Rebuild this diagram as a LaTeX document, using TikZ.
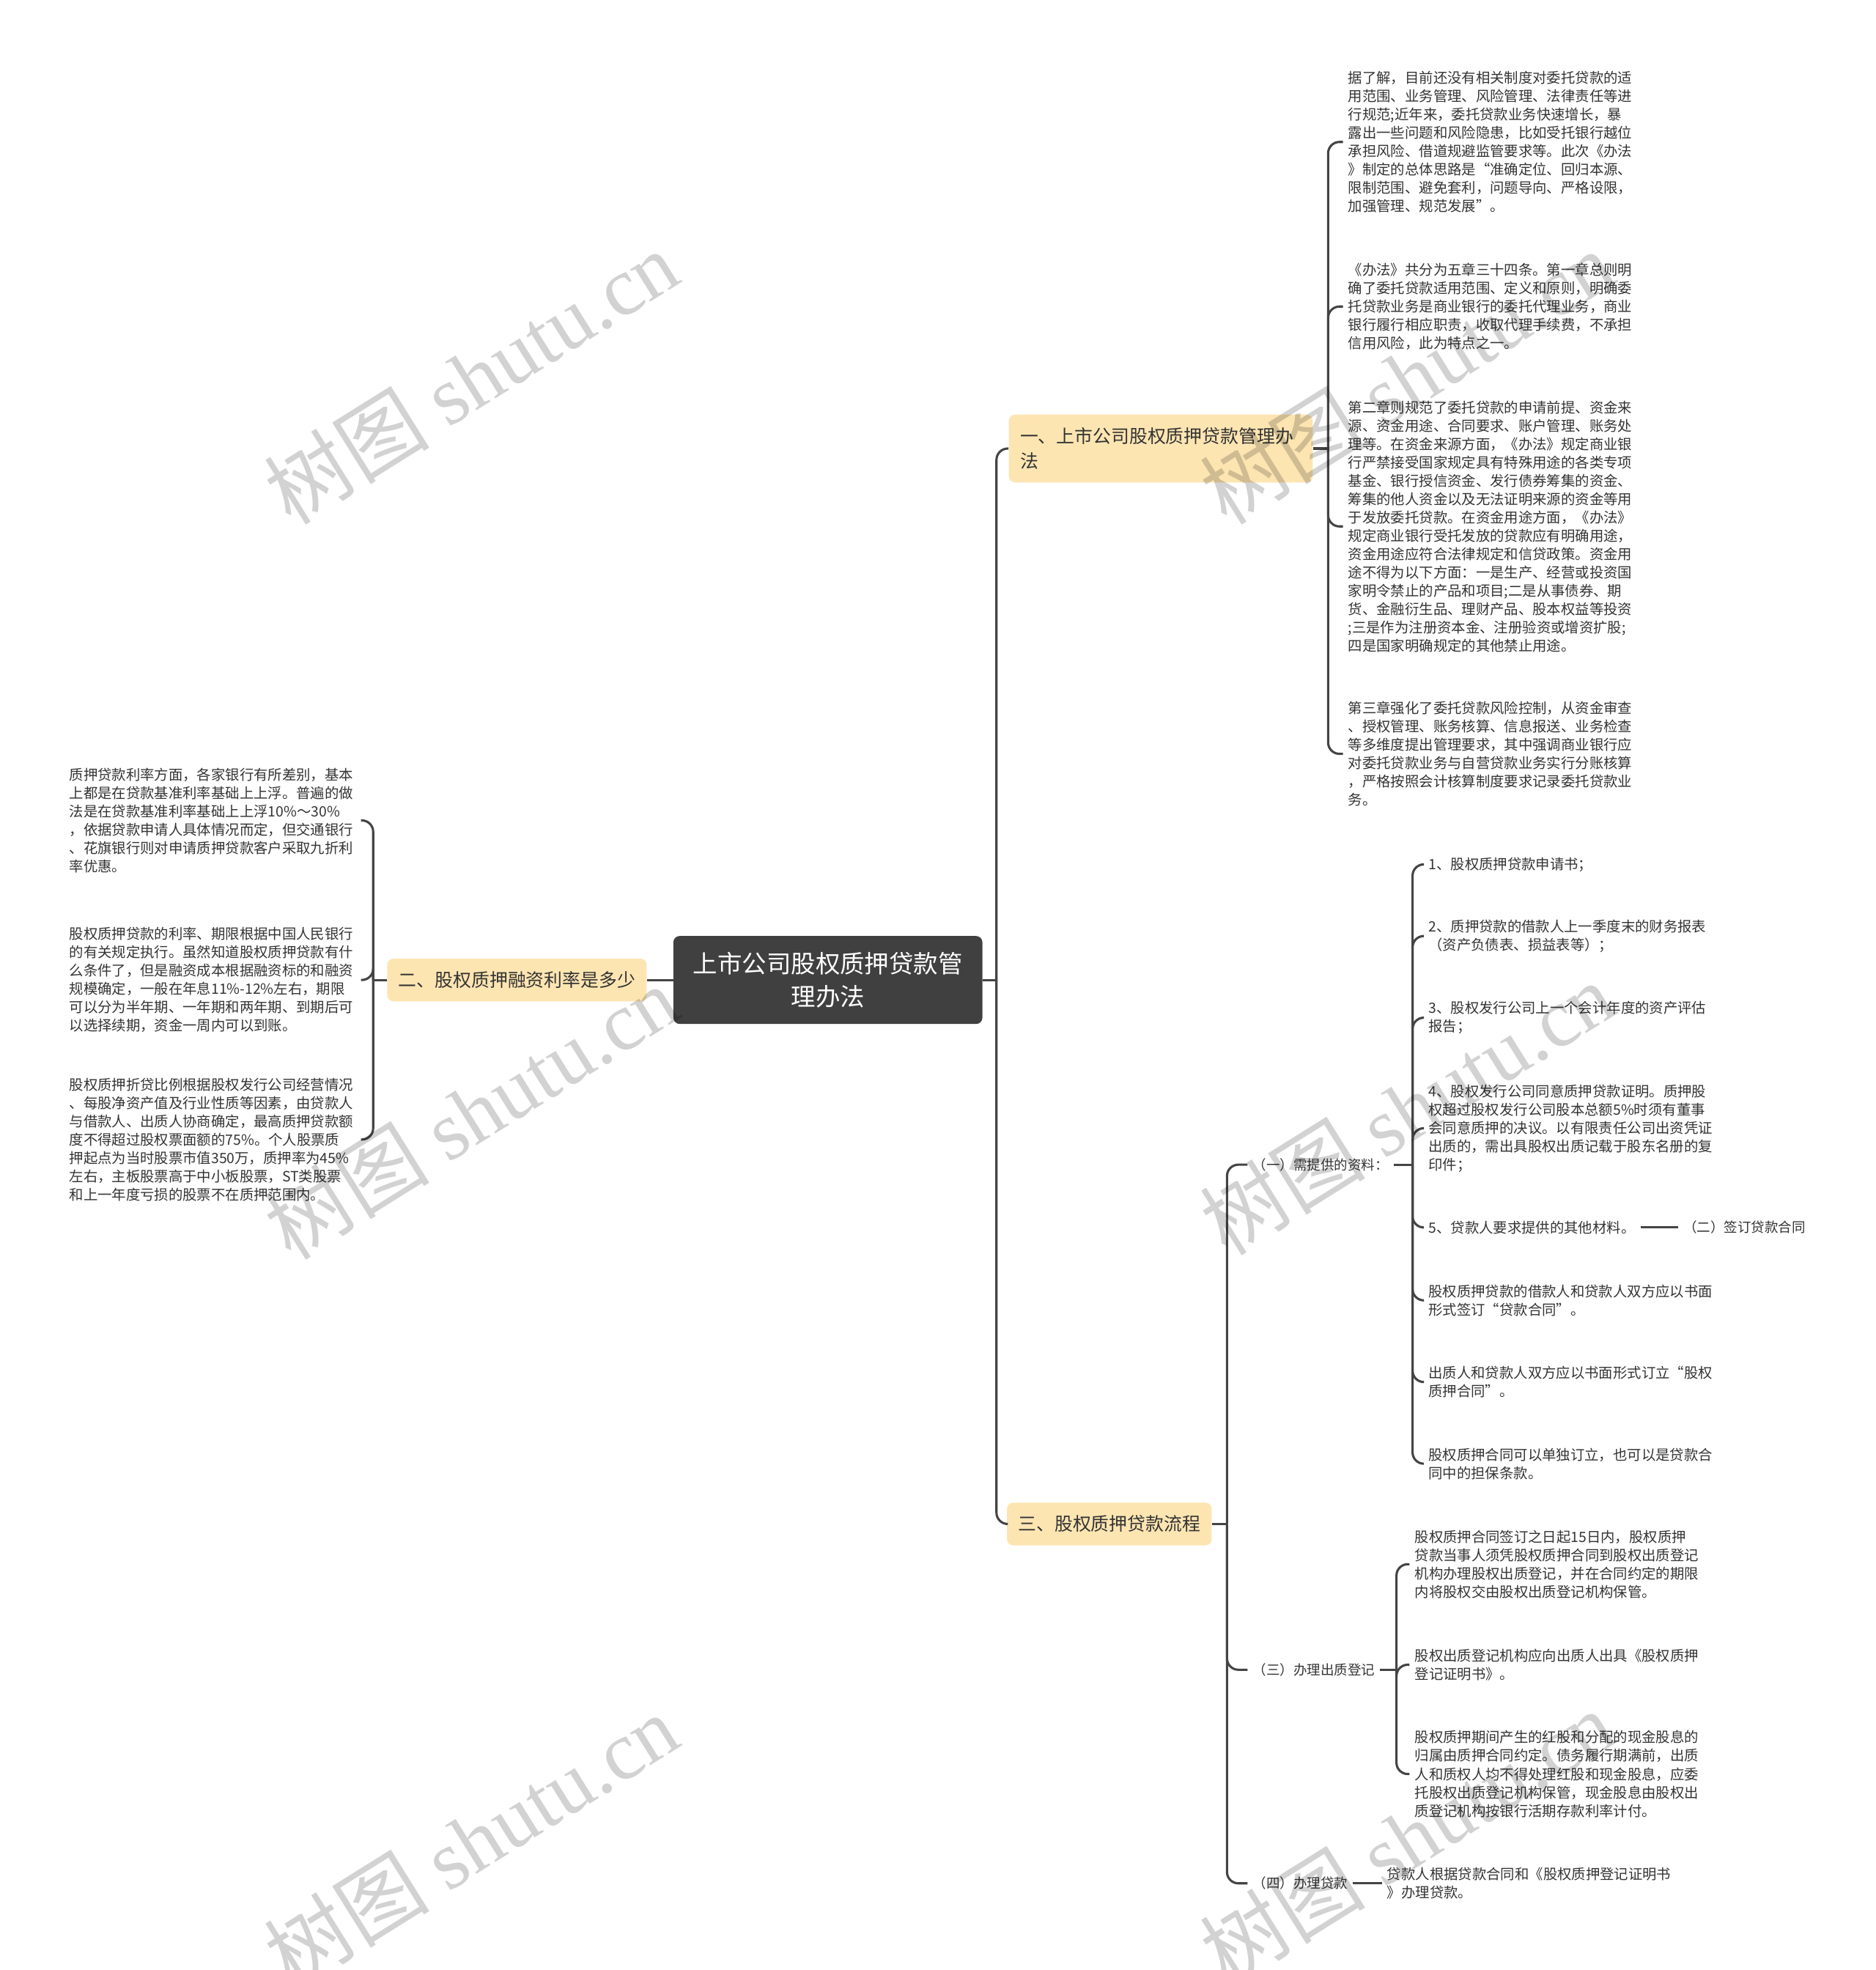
\documentclass[tikz,border=0pt]{standalone}
\usepackage{fontspec}
\setmainfont{Noto Sans CJK SC}
\newfontfamily\wmfont{Liberation Serif}
\usepackage{tikz}
\usetikzlibrary{positioning}
\definecolor{rootgray}{RGB}{64,64,64}
\definecolor{branchfill}{RGB}{253,229,178}
\definecolor{linkgray}{RGB}{68,68,68}
\definecolor{leaftext}{RGB}{51,51,51}
\definecolor{wmgray}{RGB}{210,210,210}

\begin{document}
\begin{tikzpicture}[x=1pt, y=-1pt,
  root/.style={rectangle, fill=rootgray, text=white, rounded corners=5pt,
               align=center, minimum width=246pt, minimum height=70pt,
               font=\fontsize{19.5}{26}\selectfont},
  branch/.style={rectangle, fill=branchfill, text=leaftext, rounded corners=5pt,
                 inner xsep=9pt, minimum height=34pt,
                 font=\fontsize{14.5}{20}\selectfont},
  leaf/.style={anchor=west, text=leaftext, inner xsep=4pt, inner ysep=2pt,
               text width=228pt, align=left,
               font=\fontsize{11.3}{14.6}\selectfont},
  sub/.style={anchor=west, text=leaftext, inner xsep=4pt, inner ysep=2pt,
              font=\fontsize{10.8}{14.6}\selectfont},
  link/.style={draw=linkgray, line width=1.8pt, rounded corners=9pt},
  wmtext/.style={text=wmgray, rotate=32, inner sep=0pt, font=\fontsize{66}{66}\selectfont}
]
\useasboundingbox (0,0) rectangle (1493,1568);

% Root
\node[root] (root) at (659,780) {上市公司股权质押贷款管\\理办法};

% Branches
\node[branch, text width=224pt, align=left, minimum height=54pt] (b1) at (924,357)
  {一、上市公司股权质押贷款管理办\\法};
\node[branch, minimum width=205pt] (b2) at (411.5,780) {二、股权质押融资利率是多少};
\node[branch, minimum width=160pt] (b3) at (883,1213) {三、股权质押贷款流程};

% Branch 1 leaves
\node[leaf] (r1) at (1069,113) {据了解，目前还没有相关制度对委托贷款的适\\用范围、业务管理、风险管理、法律责任等进\\行规范;近年来，委托贷款业务快速增长，暴\\露出一些问题和风险隐患，比如受托银行越位\\承担风险、借道规避监管要求等。此次《办法\\》制定的总体思路是“准确定位、回归本源、\\限制范围、避免套利，问题导向、严格设限，\\加强管理、规范发展”。};
\node[leaf] (r2) at (1069,244) {《办法》共分为五章三十四条。第一章总则明\\确了委托贷款适用范围、定义和原则，明确委\\托贷款业务是商业银行的委托代理业务，商业\\银行履行相应职责，收取代理手续费，不承担\\信用风险，此为特点之一。};
\node[leaf] (r3) at (1069,419) {第二章则规范了委托贷款的申请前提、资金来\\源、资金用途、合同要求、账户管理、账务处\\理等。在资金来源方面，《办法》规定商业银\\行严禁接受国家规定具有特殊用途的各类专项\\基金、银行授信资金、发行债券筹集的资金、\\筹集的他人资金以及无法证明来源的资金等用\\于发放委托贷款。在资金用途方面，《办法》\\规定商业银行受托发放的贷款应有明确用途，\\资金用途应符合法律规定和信贷政策。资金用\\途不得为以下方面：一是生产、经营或投资国\\家明令禁止的产品和项目;二是从事债券、期\\货、金融衍生品、理财产品、股本权益等投资\\;三是作为注册资本金、注册验资或增资扩股;\\四是国家明确规定的其他禁止用途。};
\node[leaf] (r4) at (1069,600) {第三章强化了委托贷款风险控制，从资金审查\\、授权管理、账务核算、信息报送、业务检查\\等多维度提出管理要求，其中强调商业银行应\\对委托贷款业务与自营贷款业务实行分账核算\\，严格按照会计核算制度要求记录委托贷款业\\务。};

% Branch 2 leaves
\node[leaf] (l1) at (51,653) {质押贷款利率方面，各家银行有所差别，基本\\上都是在贷款基准利率基础上上浮。普遍的做\\法是在贷款基准利率基础上上浮10\%～30\%\\，依据贷款申请人具体情况而定，但交通银行\\、花旗银行则对申请质押贷款客户采取九折利\\率优惠。};
\node[leaf] (l2) at (51,780) {股权质押贷款的利率、期限根据中国人民银行\\的有关规定执行。虽然知道股权质押贷款有什\\么条件了，但是融资成本根据融资标的和融资\\规模确定，一般在年息11\%-12\%左右，期限\\可以分为半年期、一年期和两年期、到期后可\\以选择续期，资金一周内可以到账。};
\node[leaf] (l3) at (51,907) {股权质押折贷比例根据股权发行公司经营情况\\、每股净资产值及行业性质等因素，由贷款人\\与借款人、出质人协商确定，最高质押贷款额\\度不得超过股权票面额的75\%。个人股票质\\押起点为当时股票市值350万，质押率为45\%\\左右，主板股票高于中小板股票，ST类股票\\和上一年度亏损的股票不在质押范围内。};

% Branch 3 steps
\node[sub] (s1) at (993,927) {（一）需提供的资料：};
\node[sub] (s3) at (993,1329) {（三）办理出质登记};
\node[sub] (s4) at (993,1499) {（四）办理贷款};

% Step 1 items
\node[leaf] (i1) at (1133,688) {1、股权质押贷款申请书；};
\node[leaf] (i2) at (1133,745) {2、质押贷款的借款人上一季度末的财务报表\\（资产负债表、损益表等）；};
\node[leaf] (i3) at (1133,810) {3、股权发行公司上一个会计年度的资产评估\\报告；};
\node[leaf] (i4) at (1133,898) {4、股权发行公司同意质押贷款证明。质押股\\权超过股权发行公司股本总额5\%时须有董事\\会同意质押的决议。以有限责任公司出资凭证\\出质的，需出具股权出质记载于股东名册的复\\印件；};
\node[leaf, text width=] (i5) at (1133,977) {5、贷款人要求提供的其他材料。};
\node[sub, right=30pt of i5] (k2) {（二）签订贷款合同};
\node[leaf] (i6) at (1133,1035) {股权质押贷款的借款人和贷款人双方应以书面\\形式签订“贷款合同”。};
\node[leaf] (i7) at (1133,1100) {出质人和贷款人双方应以书面形式订立“股权\\质押合同”。};
\node[leaf] (i8) at (1133,1165) {股权质押合同可以单独订立，也可以是贷款合\\同中的担保条款。};

% Step 3 items
\node[leaf] (t1) at (1122,1245) {股权质押合同签订之日起15日内，股权质押\\贷款当事人须凭股权质押合同到股权出质登记\\机构办理股权出质登记，并在合同约定的期限\\内将股权交由股权出质登记机构保管。};
\node[leaf] (t2) at (1122,1325) {股权出质登记机构应向出质人出具《股权质押\\登记证明书》。};
\node[leaf] (t3) at (1122,1412) {股权质押期间产生的红股和分配的现金股息的\\归属由质押合同约定。债务履行期满前，出质\\人和质权人均不得处理红股和现金股息，应委\\托股权出质登记机构保管，现金股息由股权出\\质登记机构按银行活期存款利率计付。};

% Step 4 item
\node[leaf] (u1) at (1100,1499) {贷款人根据贷款合同和《股权质押登记证明书\\》办理贷款。};

% Root links
\draw[link] (root.east) -- ++(11,0) coordinate (jr);
\draw[link] (jr) |- (b1.west);
\draw[link] (jr) |- (b3.west);
\draw[link] (root.west) -- (b2.east);

% Branch 1 links
\draw[link] (b1.east) -- ++(12,0) coordinate (j1);
\foreach \n in {r1,r2,r3,r4} {\draw[link] (j1) |- (\n.west);}

% Branch 2 links
\draw[link] (b2.west) -- ++(-11,0) coordinate (j2);
\foreach \n in {l1,l2,l3} {\draw[link] (j2) |- (\n.east);}

% Branch 3 links
\draw[link] (b3.east) -- ++(12,0) coordinate (j3);
\foreach \n in {s1,s3,s4} {\draw[link] (j3) |- (\n.west);}

% Step links
\draw[link] (s1.east) -- ++(15,0) coordinate (js1);
\foreach \n in {i1,i2,i3,i4,i5,i6,i7,i8} {\draw[link] (js1) |- (\n.west);}
\draw[link] (i5.east) -- (k2.west);
\draw[link] (s3.east) -- ++(13,0) coordinate (js3);
\foreach \n in {t1,t2,t3} {\draw[link] (js3) |- (\n.west);}
\draw[link] (s4.east) -- (u1.west);

% Watermarks
\begin{scope}[blend mode=multiply]
\node[wmtext] (w1) at (375,300) {树图 {\wmfont shutu.cn}};
\node[wmtext] (w2) at (1120,300) {树图 {\wmfont shutu.cn}};
\node[wmtext] (w3) at (375,885) {树图 {\wmfont shutu.cn}};
\node[wmtext] (w4) at (1120,882) {树图 {\wmfont shutu.cn}};
\node[wmtext] (w5) at (375,1465) {树图 {\wmfont shutu.cn}};
\node[wmtext] (w6) at (1120,1462) {树图 {\wmfont shutu.cn}};
\end{scope}
\end{tikzpicture}
\end{document}
